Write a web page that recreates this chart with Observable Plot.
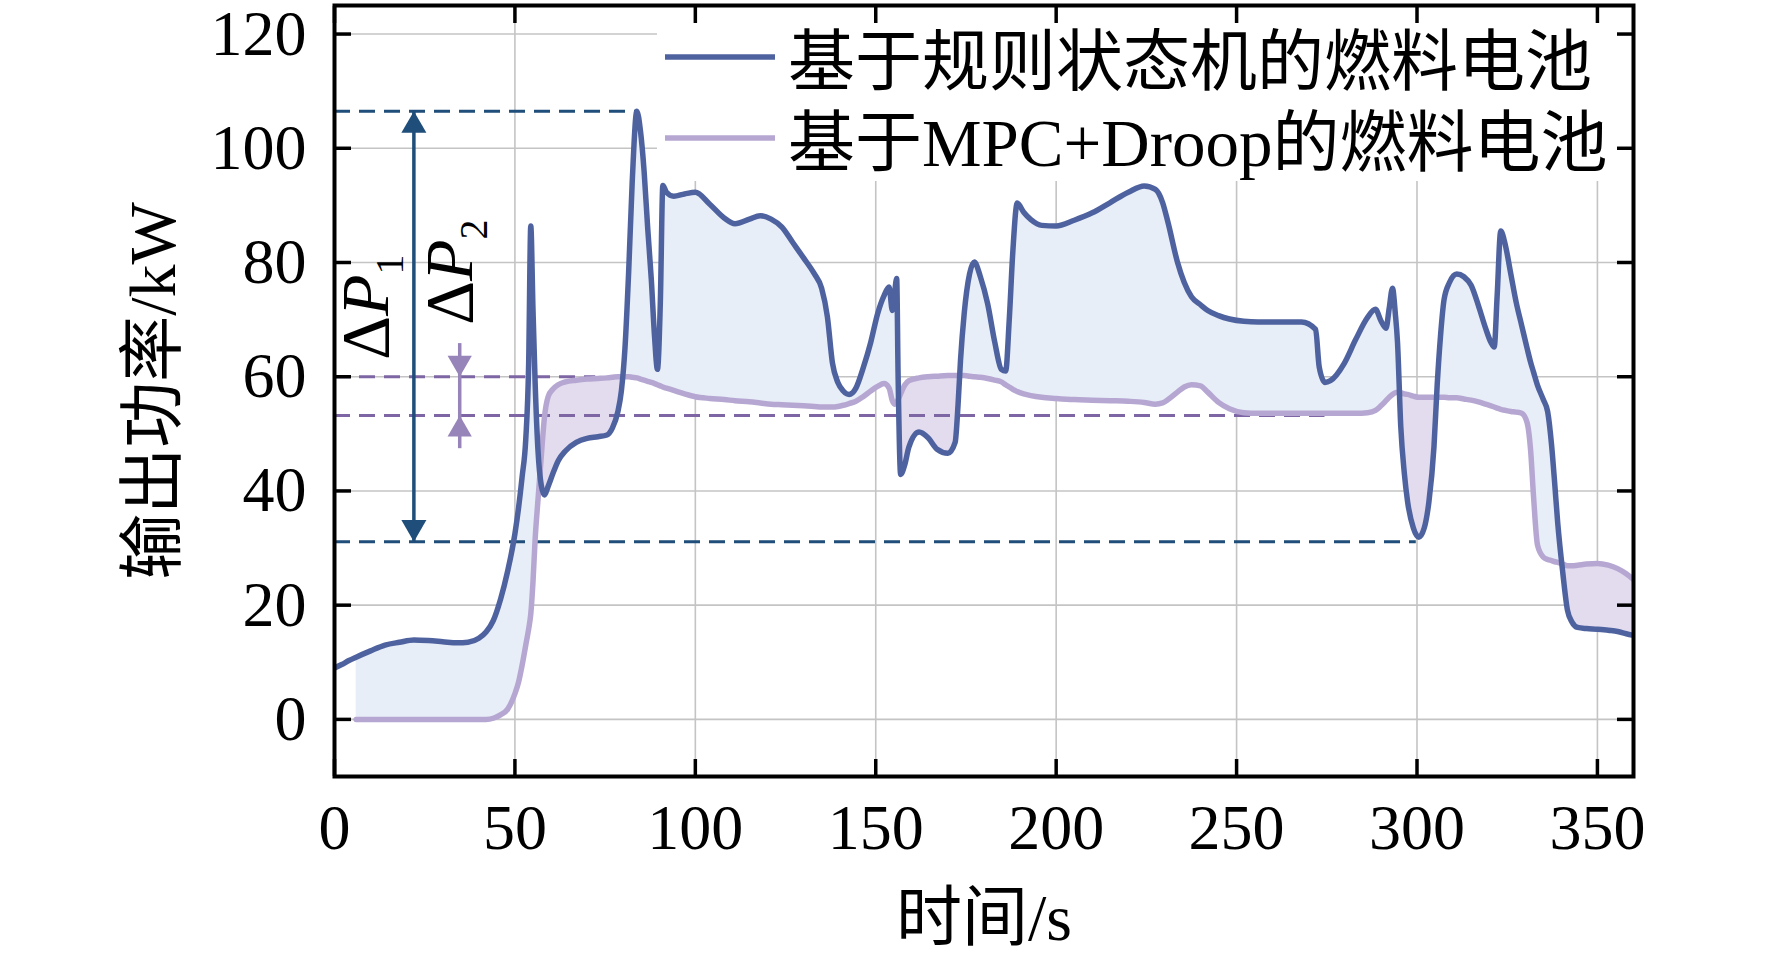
<!DOCTYPE html>
<html>
<head>
<meta charset="utf-8">
<script src="https://cdn.jsdelivr.net/npm/d3@7"></script>
<script src="https://cdn.jsdelivr.net/npm/@observablehq/plot@0.6"></script>
<style>
  html, body { margin: 0; padding: 0; background: #fff; overflow: hidden; }
  #chart { width: 1772px; height: 956px; }
</style>
</head>
<body>
<div id="chart"></div>
<script>
// ---------------- data ----------------
const time = [
  0, 2, 4, 6, 10, 14, 18, 22, 26, 30, 34, 37, 40, 42, 44, 46, 48, 50, 51, 52,
  53, 53.8, 54.4, 55.0, 55.6, 56.4, 57.3, 58.2, 59.2, 60.5, 62, 64, 67, 70, 73, 75.5, 77, 78.5, 79.5, 80.5,
  81.5, 82.5, 83.8, 84.8, 85.8, 86.8, 87.8, 88.7, 89.5, 90.3, 91, 92, 94, 97, 100, 104, 108, 111, 115, 118,
  121, 124, 127, 130, 133, 135, 136.6, 138, 139.5, 141, 142.6, 144.5, 146.5, 148.6, 150.5, 152.3, 153.7, 154.6, 155.2, 155.8,
  156.2, 156.9, 158, 159.2, 162, 164.5, 167, 170, 172, 172.8, 173.5, 174.5, 176, 177.3, 179, 181, 183, 184.8, 186, 187,
  188, 189.2, 191, 193, 196, 200, 205, 210, 215, 220, 224.4, 227.5, 229.5, 231, 233.6, 235.5, 237.5, 240, 242, 245,
  248, 252, 256, 262, 268, 271.9, 272.9, 274.5, 276, 279.8, 283, 286.3, 288.5, 290, 291.4, 292.3, 293.2, 294, 294.6, 295.5,
  296.5, 297.4, 299, 300.5, 302, 303.3, 304.7, 305.6, 306.5, 307.5, 309, 311, 313, 315, 317, 319, 320.5, 321.4, 322.2, 323.2,
  324.5, 326, 327.5, 329, 330.5, 331.5, 332.3, 333.4, 335, 336.2, 337.3, 338.2, 339, 340.4, 341.7, 343, 344.5, 347, 350, 353,
  355.6, 358, 360
];
// 基于规则状态机的燃料电池 (kW)
const pRule = [
  9.0, 9.6, 10.3, 10.9, 12.0, 13.0, 13.5, 13.9, 13.8, 13.6, 13.4, 13.5, 14.2, 15.3, 17.3, 21.0, 26.0, 32.5, 37.0, 42.5,
  49.0, 62.0, 86.4, 72.0, 59.0, 47.0, 41.0, 39.3, 40.8, 43.0, 45.3, 47.0, 48.5, 49.2, 49.5, 49.8, 51.0, 53.8, 57.5, 65.0,
  78.0, 94.0, 106.5, 103.0, 96.0, 86.0, 77.0, 67.0, 61.3, 73.0, 93.5, 92.3, 91.6, 92.0, 92.3, 90.2, 87.8, 86.8, 87.6, 88.2,
  87.6, 86.2, 83.5, 80.8, 78.0, 75.5, 70.5, 62.4, 59.0, 57.5, 56.9, 58.0, 61.5, 66.0, 71.0, 74.2, 75.7, 71.6, 74.5, 77.2,
  60.0, 42.9, 44.5, 47.7, 50.3, 49.3, 47.3, 46.6, 48.5, 55.0, 63.0, 71.0, 78.0, 80.1, 77.5, 72.8, 66.0, 61.3, 61.0, 70.0,
  82.0, 90.4, 88.8, 87.5, 86.5, 86.4, 87.4, 88.7, 90.5, 92.3, 93.4, 92.8, 90.5, 87.0, 80.1, 76.5, 74.0, 72.6, 71.6, 70.7,
  70.1, 69.7, 69.6, 69.6, 69.6, 68.3, 61.7, 59.0, 59.3, 62.3, 66.5, 70.4, 71.8, 69.8, 68.5, 72.0, 75.5, 71.0, 66.0, 51.3,
  43.0, 38.1, 33.5, 31.9, 33.5, 38.1, 47.7, 58.6, 67.0, 73.5, 76.5, 78.0, 77.5, 76.0, 72.5, 68.5, 66.0, 65.2, 74.0, 85.5,
  83.0, 78.0, 73.0, 69.0, 65.0, 62.5, 60.8, 58.5, 56.0, 53.9, 48.0, 41.0, 34.4, 25.7, 19.1, 17.0, 16.1, 15.9, 15.8, 15.6,
  15.4, 15.0, 14.7
];
// 基于MPC+Droop的燃料电池 (kW)
const pMpc = [
  null, null, null, 0, 0, 0, 0, 0, 0, 0, 0, 0, 0, 0, 0.2, 0.8, 1.8, 4.5, 6.5, 9.5,
  13.0, 15.8, 18.5, 24.0, 31.5, 38.5, 46.0, 53.0, 56.5, 57.8, 58.6, 59.1, 59.4, 59.6, 59.7, 59.8, 59.9, 60.0, 60.0, 60.0,
  60.0, 59.9, 59.8, 59.6, 59.4, 59.2, 59.0, 58.8, 58.6, 58.4, 58.2, 58.0, 57.6, 57.0, 56.5, 56.2, 56.0, 55.8, 55.6, 55.4,
  55.2, 55.1, 55.0, 54.9, 54.8, 54.7, 54.7, 54.7, 54.8, 55.0, 55.3, 55.7, 56.5, 57.5, 58.3, 58.8, 58.0, 55.8, 55.2, 55.4,
  56.0, 57.0, 58.5, 59.3, 59.8, 60.0, 60.1, 60.2, 60.2, 60.2, 60.2, 60.2, 60.1, 60.0, 59.9, 59.7, 59.4, 59.1, 58.6, 58.2,
  57.8, 57.4, 57.0, 56.7, 56.4, 56.2, 56.0, 55.9, 55.8, 55.7, 55.5, 55.2, 55.4, 56.0, 57.3, 58.2, 58.6, 58.4, 57.3, 55.5,
  54.4, 53.7, 53.6, 53.6, 53.6, 53.6, 53.6, 53.6, 53.6, 53.6, 53.6, 53.7, 54.1, 54.9, 55.8, 56.4, 56.9, 57.2, 57.3, 57.2,
  57.0, 56.9, 56.6, 56.4, 56.4, 56.4, 56.4, 56.4, 56.4, 56.4, 56.3, 56.3, 56.1, 55.9, 55.6, 55.2, 54.9, 54.7, 54.5, 54.3,
  54.1, 53.9, 53.8, 53.6, 52.0, 47.0, 39.0, 30.5, 28.4, 28.0, 27.8, 27.6, 27.5, 27.2, 26.9, 26.9, 27.0, 27.2, 27.3, 27.0,
  26.4, 25.5, 24.5
];

const seriesNames = ["基于规则状态机的燃料电池", "基于MPC+Droop的燃料电池"];
const xLabel = "时间/s";
const yLabel = "输出功率/kW";
const xTicks = [0, 50, 100, 150, 200, 250, 300, 350];
const yTicks = [0, 20, 40, 60, 80, 100, 120];

// dashed reference levels (max / min of each series) and where they end
const refSeries = ["rule", "rule", "mpc", "mpc"];
const refLevel  = [106.5, 31.1, 60.0, 53.2];
const refStart  = [0, 0, 0, 0];
const refEnd    = [83.8, 299.8, 72.4, 274.5];

// ΔP annotations
const arrowSeries = ["rule", "mpc"];
const arrowTime   = [22.0, 34.7];
const arrowLow    = [31.1, 47.4];
const arrowHigh   = [106.5, 65.8];
const headTime    = [22.0, 22.0, 34.7, 34.7];
const headLevel   = [106.5, 31.1, 60.0, 53.2];
const headDir     = ["up", "down", "down", "up"];
const headSeries  = ["rule", "rule", "mpc", "mpc"];
const deltaText   = ["ΔP1", "ΔP2"];
const deltaTime   = [8.9, 32.2];
const deltaLevel  = [72.2, 78.3];

// ---------------- styling ----------------
const C = {
  rule: "#4e62a0", mpc: "#b6a7d2",
  ruleFill: "#e8eef7", mpcFill: "#e3dcee",
  ruleRef: "#1f4e7a", mpcRef: "#7e66a4", mpcArrow: "#9784b8",
  grid: "#c4c4c4"
};
const FONT = "'Liberation Serif', 'Noto Sans CJK SC', serif";

// ---------------- tables ----------------
const rows = time.map((t, i) => ({t, rule: pRule[i], mpc: pMpc[i]}));
const refs = refLevel.map((v, i) => ({level: v, x1: refStart[i], x2: refEnd[i], s: refSeries[i]}));
const stems = arrowTime.map((t, i) => ({t, y1: arrowLow[i], y2: arrowHigh[i], s: arrowSeries[i]}));
const heads = headTime.map((t, i) => ({t, y: headLevel[i], dir: headDir[i], s: headSeries[i]}));
const deltas = deltaText.map((s, i) => ({s, t: deltaTime[i], y: deltaLevel[i]}));

// arrow heads: tip on the dashed level; d3 triangle tip sits 2/3 of its height from centre
const headMarks = [];
for (const s of ["rule", "mpc"]) {
  const r = s === "rule" ? 9.3 : 9.0;
  const off = 2 * Math.sqrt(Math.PI * r * r / (3 * Math.sqrt(3)));
  for (const dir of ["up", "down"]) {
    headMarks.push(Plot.dot(heads.filter(d => d.s === s && d.dir === dir), {
      x: "t", y: "y", symbol: "triangle", r,
      rotate: dir === "up" ? 0 : 180,
      dy: dir === "up" ? off : -off,
      fill: s === "rule" ? C.ruleRef : C.mpcArrow, stroke: "none"
    }));
  }
}

// legend drawn inside the frame (white box, covers the grid like the original)
function legendMark(index, scales, values, dims) {
  const ns = "http://www.w3.org/2000/svg";
  const g = document.createElementNS(ns, "g");
  const right = dims.width - dims.marginRight;
  const top = dims.marginTop;
  const boxX = right - 976, boxW = 968, boxY = top + 2, boxH = 174;
  const rect = document.createElementNS(ns, "rect");
  rect.setAttribute("x", boxX); rect.setAttribute("y", boxY);
  rect.setAttribute("width", boxW); rect.setAttribute("height", boxH);
  rect.setAttribute("fill", "white");
  g.appendChild(rect);
  const colors = [C.rule, C.mpc];
  seriesNames.forEach((name, i) => {
    const cy = top + 52 + i * 81;
    const ln = document.createElementNS(ns, "line");
    ln.setAttribute("x1", boxX + 8); ln.setAttribute("x2", boxX + 118);
    ln.setAttribute("y1", cy); ln.setAttribute("y2", cy);
    ln.setAttribute("stroke", colors[i]); ln.setAttribute("stroke-width", 5.5);
    g.appendChild(ln);
    const tx = document.createElementNS(ns, "text");
    tx.setAttribute("x", boxX + 131); tx.setAttribute("y", cy + 28);
    tx.setAttribute("text-anchor", "start");
    tx.setAttribute("font-size", 67); tx.setAttribute("font-family", FONT);
    tx.setAttribute("fill", "black");
    tx.textContent = name;
    g.appendChild(tx);
  });
  return g;
}

const svg = Plot.plot({
  width: 1772, height: 956,
  marginLeft: 334, marginRight: 139, marginTop: 5, marginBottom: 180,
  x: {domain: [0, 360]},
  y: {domain: [-10, 125]},
  style: {fontFamily: FONT, fontSize: "64px", background: "white", color: "black"},
  marks: [
    Plot.gridX(xTicks, {stroke: C.grid, strokeOpacity: 1, strokeWidth: 1.6}),
    Plot.gridY(yTicks, {stroke: C.grid, strokeOpacity: 1, strokeWidth: 1.6}),
    // shaded differences
    Plot.areaY(rows, {x: "t", y1: d => d.mpc, y2: d => d.mpc == null ? null : Math.max(d.rule, d.mpc),
      fill: C.ruleFill, curve: "monotone-x", clip: true}),
    Plot.areaY(rows, {x: "t", y1: d => d.mpc == null ? null : Math.min(d.rule, d.mpc), y2: d => d.mpc,
      fill: C.mpcFill, curve: "monotone-x", clip: true}),
    // dashed reference lines
    Plot.ruleY(refs, {y: "level", x1: "x1", x2: "x2", stroke: d => d.s === "rule" ? C.ruleRef : C.mpcRef,
      strokeWidth: 3, strokeDasharray: "16 9"}),
    // ΔP arrows
    Plot.ruleX(stems, {x: "t", y1: "y1", y2: "y2", stroke: d => d.s === "rule" ? C.ruleRef : C.mpcArrow,
      strokeWidth: 3.5}),
    ...headMarks,
    // series lines
    Plot.line(rows, {x: "t", y: "mpc", stroke: C.mpc, strokeWidth: 5.5, curve: "monotone-x", clip: true}),
    Plot.line(rows, {x: "t", y: "rule", stroke: C.rule, strokeWidth: 5.5, curve: "monotone-x", clip: true}),
    // ΔP labels
    Plot.text(deltas, {x: "t", y: "y", text: "s", rotate: -90, fontSize: 68, fill: "black",
      textAnchor: "middle", lineAnchor: "middle"}),
    // legend
    legendMark,
    // frame and inward ticks
    Plot.frame({stroke: "black", strokeWidth: 4}),
    Plot.axisX(xTicks, {anchor: "bottom", tickSize: 17, dy: -17, fill: "none", label: null, strokeWidth: 3.5}),
    Plot.axisX(xTicks, {anchor: "top", tickSize: 17, dy: 17, fill: "none", label: null, strokeWidth: 3.5}),
    Plot.axisY(yTicks, {anchor: "left", tickSize: 17, dx: 17, fill: "none", label: null, strokeWidth: 3.5}),
    Plot.axisY(yTicks, {anchor: "right", tickSize: 17, dx: -17, fill: "none", label: null, strokeWidth: 3.5}),
    // tick labels
    Plot.axisX(xTicks, {anchor: "bottom", tickSize: 0, tickPadding: 27, fontSize: 64, label: null}),
    Plot.axisY(yTicks, {anchor: "left", tickSize: 0, tickPadding: 28, fontSize: 64, label: null}),
    // axis titles
    Plot.text([xLabel], {frameAnchor: "bottom", dy: 142, text: d => d, fontSize: 66, fill: "black",
      textAnchor: "middle", lineAnchor: "middle"}),
    Plot.text([yLabel], {frameAnchor: "left", dx: -181, rotate: -90, text: d => d, fontSize: 66, fill: "black",
      textAnchor: "middle", lineAnchor: "middle"})
  ]
});

// ΔP labels: upright Δ, italic P, subscript index
const NS = "http://www.w3.org/2000/svg";
svg.querySelectorAll("text").forEach(el => {
  const m = /^ΔP(\d)$/.exec(el.textContent);
  if (!m) return;
  el.textContent = "";
  const add = (txt, attrs) => {
    const ts = document.createElementNS(NS, "tspan");
    ts.textContent = txt;
    for (const k in attrs) ts.setAttribute(k, attrs[k]);
    el.appendChild(ts);
  };
  add("Δ", {});
  add("P", {"font-style": "italic"});
  add(m[1], {"font-size": "40", "dy": "0.36em"});
});

document.getElementById("chart").appendChild(svg);
</script>
</body>
</html>
